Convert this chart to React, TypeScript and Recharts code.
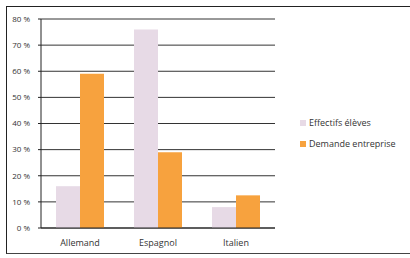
import { BarChart, Bar, XAxis, YAxis, CartesianGrid } from 'recharts';

// ── Data ──────────────────────────────────────────────────────────────────
const languages = ['Allemand', 'Espagnol', 'Italien'];
const effectifsEleves = [16, 76, 8];
const demandeEntreprise = [59, 29, 12.5];
const yTicks = [0, 10, 20, 30, 40, 50, 60, 70, 80];

const PINK = '#e7dae6';
const ORANGE = '#f7a23e';
const FONT = '"Open Sans", "Liberation Sans", sans-serif';

const rows = languages.map((name, i) => ({
  name,
  eleves: effectifsEleves[i],
  entreprise: demandeEntreprise[i],
}));

// Legend drawn beside the plot, the way Excel puts it on the right
function LegendBox() {
  const items = [
    { label: 'Effectifs élèves', color: PINK },
    { label: 'Demande entreprise', color: ORANGE },
  ];
  return (
    <div
      style={{
        position: 'absolute',
        left: 300,
        top: 112,
        fontFamily: FONT,
        fontSize: 9,
        color: '#333',
      }}
    >
      {items.map((it) => (
        <div key={it.label} style={{ display: 'flex', alignItems: 'center', height: 21 }}>
          <span style={{ width: 6, height: 6, background: it.color, marginRight: 3 }} />
          {it.label}
        </div>
      ))}
    </div>
  );
}

export default function App() {
  return (
    <div style={{ position: 'absolute', left: 0, top: 0, width: 410, height: 258, background: '#fff' }}>
      {/* scanned frame: left, top and bottom edges only */}
      <div
        style={{
          position: 'absolute',
          left: 6,
          top: 6,
          width: 404,
          height: 246,
          borderLeft: '1px solid #222',
          borderTop: '1px solid #222',
          borderBottom: '1px solid #444',
        }}
      />
      <BarChart
        width={410}
        height={258}
        data={rows}
        margin={{ top: 19, right: 135, left: 0, bottom: 10 }}
        barGap={0}
        barCategoryGap={15}
      >
        <CartesianGrid vertical={false} stroke="#333" strokeWidth={1} />
        <XAxis
          dataKey="name"
          height={20}
          stroke="#222"
          tickLine={false}
          tickMargin={6}
          tick={{ fontSize: 9, fontFamily: FONT, fill: '#333' }}
        />
        <YAxis
          width={41}
          domain={[0, 80]}
          ticks={yTicks}
          interval={0}
          stroke="#222"
          tickSize={3}
          tickMargin={8}
          tickFormatter={(v: number) => `${v} %`}
          tick={{ fontSize: 8, fontFamily: FONT, fill: '#333' }}
        />
        <Bar dataKey="eleves" name="Effectifs élèves" fill={PINK} isAnimationActive={false} />
        <Bar dataKey="entreprise" name="Demande entreprise" fill={ORANGE} isAnimationActive={false} />
      </BarChart>
      <LegendBox />
    </div>
  );
}
